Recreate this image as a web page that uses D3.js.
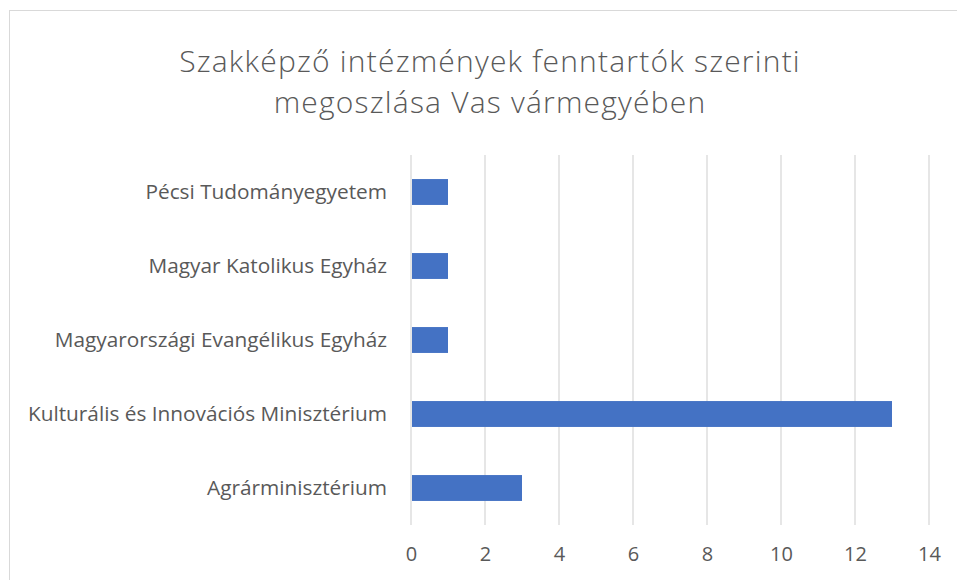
<!DOCTYPE html>
<html>
<head>
<meta charset="utf-8">
<script src="https://cdn.jsdelivr.net/npm/d3@7"></script>
<style>
  body { margin: 0; background: #fff; }
  svg { display: block; font-family: "Open Sans", Lato, sans-serif; }
</style>
</head>
<body>
<div id="chart"></div>
<script>
const categories = [
  "Pécsi Tudományegyetem",
  "Magyar Katolikus Egyház",
  "Magyarországi Evangélikus Egyház",
  "Kulturális és Innovációs Minisztérium",
  "Agrárminisztérium"
];
const values = [1, 1, 1, 13, 3];
const xTicks = [0, 2, 4, 6, 8, 10, 12, 14];
const titleLines = ["Szakképző intézmények fenntartók szerinti", "megoszlása Vas vármegyében"];

const width = 957;
const height = 580;
const marginTop = 155;
const marginRight = 28;
const marginBottom = 55;
const marginLeft = 411;

const data = categories.map((c, i) => ({ name: c, value: values[i] }));

const svg = d3.select("#chart")
  .append("svg")
  .attr("width", width)
  .attr("height", height)
  .attr("viewBox", [0, 0, width, height]);

// chart border
svg.append("rect")
  .attr("x", 9.5)
  .attr("y", 10.5)
  .attr("width", width + 10)
  .attr("height", height + 10)
  .attr("fill", "none")
  .attr("stroke", "#d9d9d9");

const x = d3.scaleLinear()
  .domain([0, 14])
  .range([marginLeft, width - marginRight]);

const y = d3.scaleBand()
  .domain(categories)
  .range([marginTop, height - marginBottom])
  .paddingInner(0.65)
  .paddingOuter(0.325);

// vertical gridlines
svg.append("g")
  .selectAll("line")
  .data(xTicks)
  .join("line")
    .attr("x1", d => x(d))
    .attr("x2", d => x(d))
    .attr("y1", marginTop)
    .attr("y2", height - marginBottom)
    .attr("stroke", "#d9d9d9")
    .attr("stroke-width", 1.3);

svg.append("g")
  .selectAll("rect")
  .data(data)
  .join("rect")
    .attr("x", x(0) + 1)
    .attr("y", d => y(d.name))
    .attr("width", d => x(d.value) - x(0) - 1)
    .attr("height", y.bandwidth())
    .attr("fill", "#4472c4");

// x axis labels
svg.append("g")
  .attr("transform", `translate(0,${height - marginBottom})`)
  .call(d3.axisBottom(x).tickValues(xTicks).tickSize(0).tickPadding(22))
  .call(g => g.select(".domain").remove())
  .call(g => g.selectAll("text")
    .attr("fill", "#595959")
    .attr("font-size", 20)
    .attr("font-family", "'Open Sans', sans-serif"));

// category labels
svg.append("g")
  .attr("transform", `translate(${marginLeft},0)`)
  .call(d3.axisLeft(y).tickSize(0).tickPadding(24))
  .call(g => g.select(".domain").remove())
  .call(g => g.selectAll("text")
    .attr("fill", "#595959")
    .attr("font-size", 20.8)
    .attr("font-family", "'Open Sans', sans-serif"));

// title
svg.append("g")
  .selectAll("text")
  .data(titleLines)
  .join("text")
    .attr("x", 490)
    .attr("y", (d, i) => 72 + i * 41)
    .attr("text-anchor", "middle")
    .attr("fill", "#595959")
    .attr("font-size", 30)
    .attr("font-weight", 300)
    .attr("letter-spacing", 1.2)
    .text(d => d);
</script>
</body>
</html>
